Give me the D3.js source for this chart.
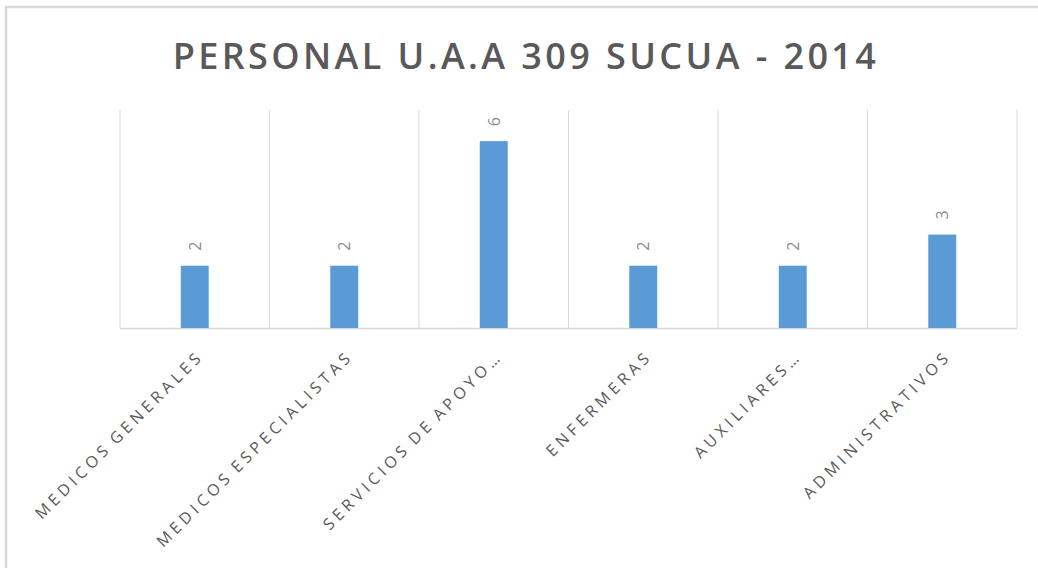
<!DOCTYPE html>
<html>
<head>
<meta charset="utf-8">
<script src="https://cdn.jsdelivr.net/npm/d3@7"></script>
<style>
  html, body { margin: 0; padding: 0; background: #fff; }
  svg { display: block; }
</style>
</head>
<body>
<svg id="chart" width="1038" height="568"></svg>
<script>
const title = "PERSONAL U.A.A 309 SUCUA - 2014";
const categories = ["MEDICOS GENERALES", "MEDICOS ESPECIALISTAS", "SERVICIOS DE APOYO…", "ENFERMERAS", "AUXILIARES…", "ADMINISTRATIVOS"];
const values = [2, 2, 6, 2, 2, 3];
const yDomain = [0, 7];

const W = 1038, H = 568;
const margin = { left: 120, right: 21, top: 110, bottom: 240 };
const svg = d3.select("#chart");

// outer frame
svg.append("rect")
  .attr("x", 6).attr("y", 7)
  .attr("width", W + 10).attr("height", H + 10)
  .attr("fill", "#fff")
  .attr("stroke", "#d9d9d9").attr("stroke-width", 2.5);

const x = d3.scaleBand().domain(categories).range([margin.left, W - margin.right]).padding(0);
const y = d3.scaleLinear().domain(yDomain).range([H - margin.bottom, margin.top]);

// vertical gridlines at category boundaries
const bounds = categories.map(c => x(c)).concat([x.range()[1]]);
svg.append("g").selectAll("line").data(bounds).join("line")
  .attr("x1", d => d).attr("x2", d => d)
  .attr("y1", y(yDomain[1])).attr("y2", y(0))
  .attr("stroke", "#d9d9d9").attr("stroke-width", 1);

// bottom axis line
svg.append("line")
  .attr("x1", x.range()[0]).attr("x2", x.range()[1])
  .attr("y1", y(0) + 0.5).attr("y2", y(0) + 0.5)
  .attr("stroke", "#d9d9d9").attr("stroke-width", 1.5);

// bars
const bw = x.bandwidth() * 0.187;
svg.append("g").selectAll("rect").data(values).join("rect")
  .attr("x", (d, i) => x(categories[i]) + x.bandwidth() / 2 - bw / 2)
  .attr("y", d => y(d))
  .attr("width", bw)
  .attr("height", d => y(0) - y(d))
  .attr("fill", "#5b9bd5");

// data labels (rotated 270)
svg.append("g").selectAll("text").data(values).join("text")
  .attr("transform", (d, i) => `translate(${x(categories[i]) + x.bandwidth() / 2 + 6},${y(d) - 15}) rotate(-90)`)
  .attr("text-anchor", "start")
  .attr("font-family", "Open Sans, sans-serif")
  .attr("font-size", 16)
  .attr("fill", "#8c8c8c")
  .text(d => d);

// category labels rotated -45
svg.append("g").selectAll("text").data(categories).join("text")
  .attr("transform", c => `translate(${x(c) + x.bandwidth() / 2 + 10},${y(0) + 29}) rotate(-45)`)
  .attr("text-anchor", "end")
  .attr("font-family", "Open Sans, sans-serif")
  .attr("font-size", 16)
  .attr("letter-spacing", 4.2)
  .attr("word-spacing", -3)
  .attr("fill", "#595959")
  .text(c => c);

// title
svg.append("text")
  .attr("x", 526).attr("y", 69)
  .attr("text-anchor", "middle")
  .attr("font-family", "Open Sans, sans-serif")
  .attr("font-weight", 600)
  .attr("font-size", 36)
  .attr("letter-spacing", 3.4)
  .attr("fill", "#595959")
  .text(title);
</script>
</body>
</html>
